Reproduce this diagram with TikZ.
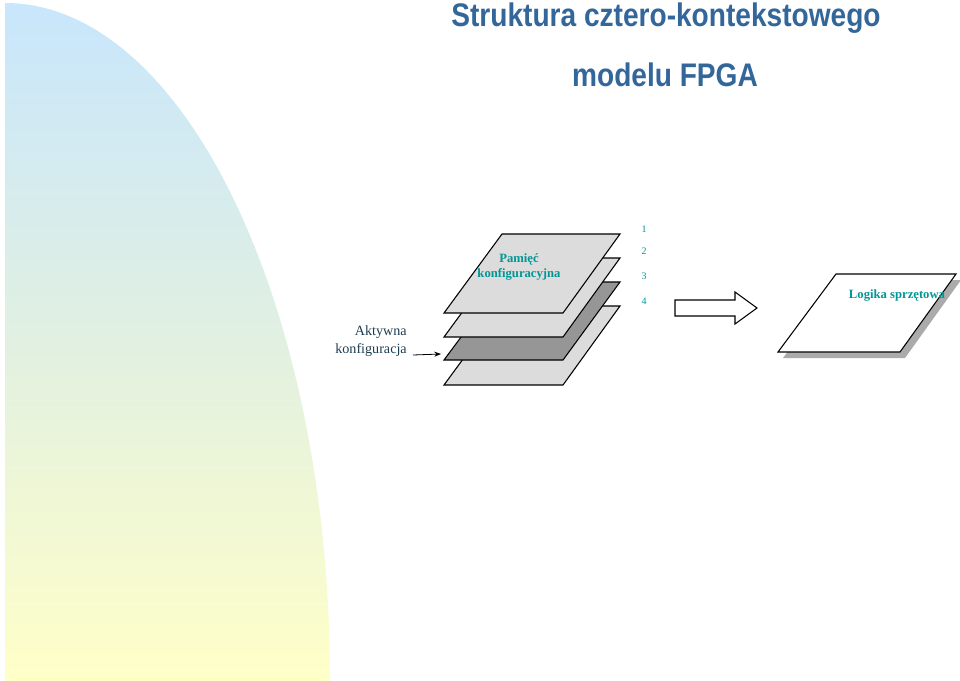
\documentclass[tikz,border=0pt]{standalone}
\usepackage{fontspec}
\setmainfont{Liberation Serif}
\newfontfamily\arialfont{Liberation Sans}
\usetikzlibrary{arrows.meta}
\definecolor{teal1}{RGB}{0,150,150}
\definecolor{titleblue}{RGB}{51,102,153}
\definecolor{plane}{RGB}{220,220,220}
\definecolor{planedark}{RGB}{150,150,150}
\tikzset{
  plane/.style={draw=black, line width=0.8pt, fill=plane},
  lbl/.style={text=teal1, font=\bfseries\fontsize{9.5}{11}\selectfont, align=center, inner sep=0},
  num/.style={text=teal1, font=\fontsize{7.5}{9}\selectfont, inner sep=0},
  ttl/.style={text=titleblue, font=\arialfont\bfseries\fontsize{24.5}{28}\selectfont, inner sep=0}
}
\begin{document}
\begin{tikzpicture}[x=0.75pt,y=-0.75pt]
\useasboundingbox (0,0) rectangle (960,681);
% background quarter ellipse with gradient
\shade[top color={rgb,255:red,200;green,230;blue,252}, bottom color={rgb,255:red,255;green,255;blue,200}, middle color={rgb,255:red,225;green,240;blue,225}]
  (5,681) -- (5,3) arc[start angle=90, end angle=0, x radius=325, y radius=-678] -- cycle;
% title
\node[ttl] (t1) at (666,18) {\addfontfeature{FakeStretch=0.86}Struktura cztero-kontekstowego};
\node[ttl] (t2) at (665,75) {\addfontfeature{FakeStretch=0.86}modelu FPGA};
% stack of planes (bottom first)
\draw[plane] (444,385) -- (563,385) -- (620,306) -- (502,306) -- cycle;
\draw[plane, fill=planedark] (444,360) -- (563,360) -- (620,282) -- (502,282) -- cycle;
\draw[plane] (444,337) -- (563,337) -- (620,258) -- (502,258) -- cycle;
\draw[plane] (444,313) -- (563,313) -- (620,234) -- (502,234) -- cycle;
\coordinate (active) at (441,354);
\node[lbl] (pam) at (519,267) {Pamięć\\konfiguracyjna};
\node[num] (n1) at (644,229) {1};
\node[num] (n2) at (644,251) {2};
\node[num] (n3) at (644,276) {3};
\node[num] (n4) at (644,301) {4};
% block arrow
\draw[line width=0.8pt, fill=white] (675,300) -- (735,300) -- (735,292) -- (757,308) -- (735,324) -- (735,316) -- (675,316) -- cycle;
% right plane with shadow
\fill[planedark!80] (783,358) -- (905,358) -- (961,280) -- (841,280) -- cycle;
\draw[line width=0.8pt, fill=white] (778,352) -- (900,352) -- (956,274) -- (836,274) -- cycle;
\node[lbl] (logika) at (897,296) {Logika sprzętowa};
% active configuration
\node[align=right, anchor=east, inner sep=0, text={rgb,255:red,30;green,60;blue,80}, font=\fontsize{10.6}{13.5}\selectfont] (akt) at (407,341) {Aktywna\\konfiguracja};
\coordinate (astart) at (413,355);
\draw[-{Stealth[length=5pt]}, line width=0.6pt] (astart) -- (active);
\end{tikzpicture}
\end{document}
